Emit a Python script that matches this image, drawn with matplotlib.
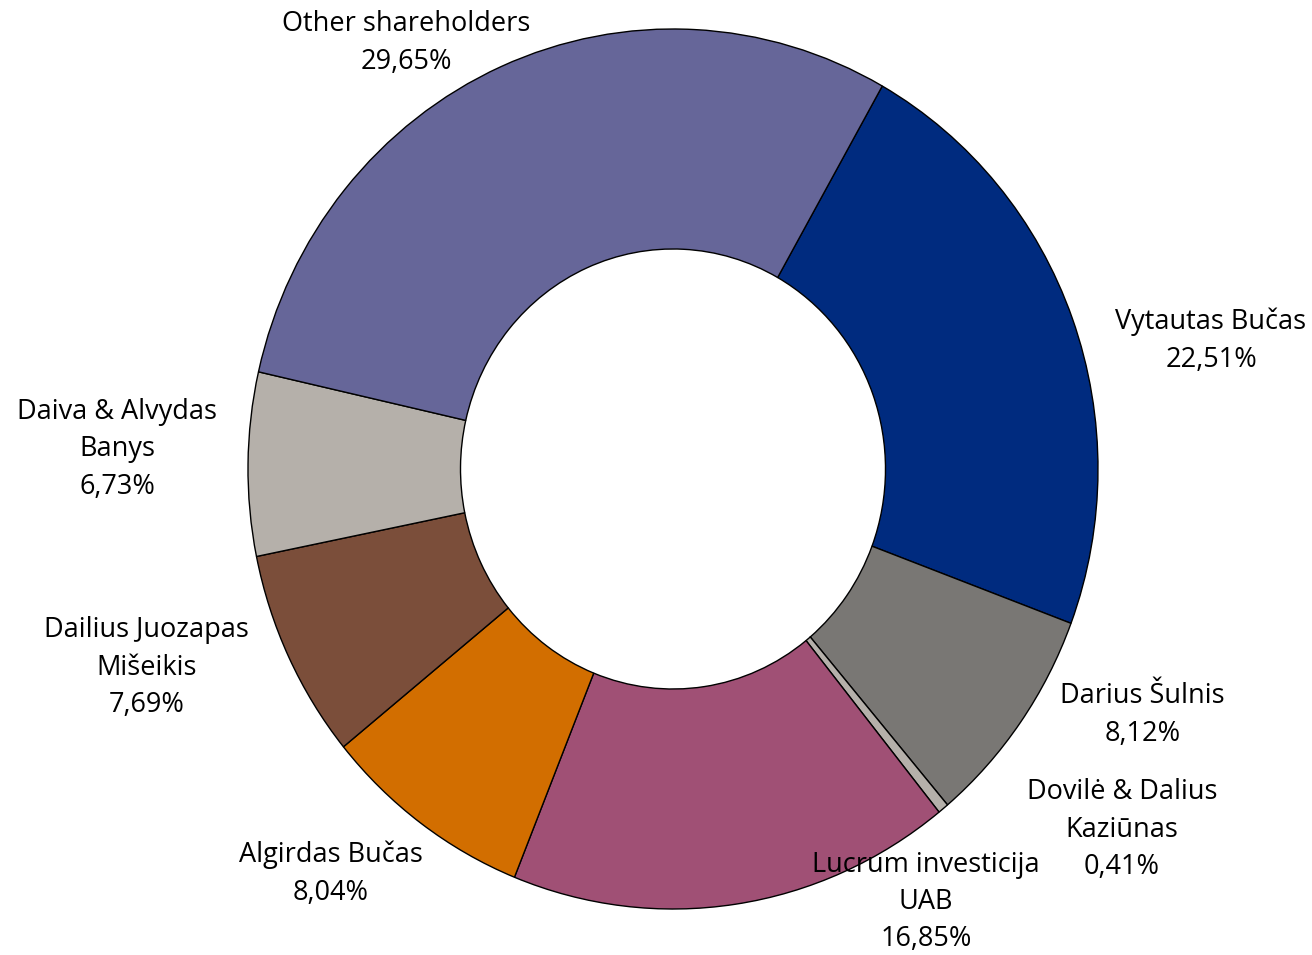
import matplotlib
matplotlib.use("Agg")
import matplotlib.pyplot as plt

labels = ["Vytautas Bučas", "Darius Šulnis", "Dovilė & Dalius\nKaziūnas",
          "Lucrum investicija\nUAB", "Algirdas Bučas", "Dailius Juozapas\nMišeikis",
          "Daiva & Alvydas\nBanys", "Other shareholders"]
values = [22.51, 8.12, 0.41, 16.85, 8.04, 7.69, 6.73, 29.65]
colors = ["#002B7F", "#797774", "#B5B0AA", "#A05075", "#D26E00", "#7B4E3A",
          "#B5B0AA", "#666699"]
# label text centres (data units, radius 1 = outer ring)
label_pos = [(1.266, 0.291), (1.104, -0.559), (1.056, -0.820), (0.595, -0.984),
             (-0.805, -0.920), (-1.238, -0.452), (-1.308, 0.045), (-0.628, 0.968)]

plt.rcParams['font.family'] = ['Open Sans', 'DejaVu Sans']

fig = plt.figure(figsize=(13.12, 9.55), dpi=100)
ax = fig.add_axes([0, 0, 1, 1])
ax.pie(values, colors=colors, startangle=60.5, counterclock=False,
       radius=1.0, wedgeprops=dict(width=0.5, edgecolor="black", linewidth=1.0))
ax.set_aspect('auto')
ax.set_xlim(-673 / 425, 639 / 425)
ax.set_ylim(-486 / 440, 469 / 440)
ax.axis('off')

for lab, v, (x, y) in zip(labels, values, label_pos):
    txt = f"{lab}\n{v:.2f}%".replace(".", ",")
    ax.text(x, y, txt, ha="center", va="center", fontsize=19.5,
            linespacing=1.45, color="black")

fig.savefig("out.png", dpi=100)
